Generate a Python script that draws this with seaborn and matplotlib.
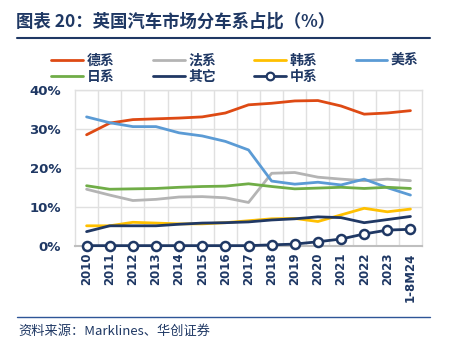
import matplotlib
matplotlib.use("Agg")
import matplotlib.pyplot as plt
import seaborn as sns
import pandas as pd
from matplotlib.lines import Line2D

years = ["2010", "2011", "2012", "2013", "2014", "2015", "2016", "2017",
         "2018", "2019", "2020", "2021", "2022", "2023", "1-8M24"]
de = [28.5, 31.5, 32.4, 32.6, 32.8, 33.1, 34.1, 36.2, 36.6, 37.2, 37.3, 35.9, 33.8, 34.1, 34.7]
fr = [14.5, 13.0, 11.6, 11.9, 12.5, 12.6, 12.3, 11.1, 18.6, 18.8, 17.6, 17.1, 16.7, 17.1, 16.7]
kr = [5.1, 5.1, 6.0, 5.8, 5.6, 5.6, 5.9, 6.4, 6.9, 7.0, 6.2, 7.9, 9.6, 8.7, 9.4]
us = [33.1, 31.6, 30.6, 30.6, 29.0, 28.2, 26.8, 24.6, 16.6, 15.8, 16.3, 15.6, 17.1, 14.9, 13.0]
jp = [15.4, 14.5, 14.6, 14.7, 15.0, 15.2, 15.3, 15.9, 15.2, 14.6, 14.8, 15.0, 14.7, 15.0, 14.7]
other = [3.6, 5.1, 5.1, 5.1, 5.5, 5.8, 5.9, 6.1, 6.6, 6.9, 7.4, 7.2, 5.9, 6.7, 7.5]
cn = [0.0, 0.0, 0.0, 0.0, 0.0, 0.0, 0.0, 0.0, 0.2, 0.4, 1.0, 1.7, 3.0, 4.0, 4.2]

series_names = ["德系", "法系", "韩系", "美系", "日系", "其它", "中系"]
series_vals = [de, fr, kr, us, jp, other, cn]
colors = ["#DE4A14", "#B4B4B4", "#FFC000", "#5B9BD5", "#70AD47", "#203864", "#203864"]
navy = "#1F3864"

rows = []
for name, vals in zip(series_names, series_vals):
    for i, (y, v) in enumerate(zip(years, vals)):
        rows.append({"idx": i, "year": y, "series": name, "value": v})
df = pd.DataFrame(rows)

sns.set_style("white")
plt.rcParams["font.family"] = ["Noto Sans CJK SC", "DejaVu Sans"]

fig = plt.figure(figsize=(4.53, 3.45), dpi=100)
ax = fig.add_axes([0.1656, 0.288, 0.766, 0.451])

palette = dict(zip(series_names, colors))
sns.lineplot(data=df[df.series != "中系"], x="idx", y="value", hue="series",
             hue_order=series_names[:-1], palette=palette, linewidth=2.0,
             ax=ax, legend=False, sort=False)
sns.lineplot(data=df[df.series == "中系"], x="idx", y="value", color=navy,
             linewidth=2.0, marker="o", markersize=6.5, markerfacecolor="white",
             markeredgecolor=navy, markeredgewidth=1.8, ax=ax, legend=False,
             clip_on=False, zorder=5)

ax.set_xlim(-0.5, 14.5)
ax.set_ylim(0, 40)
ax.set_xticks(range(len(years)))
ax.set_xticklabels(years, rotation=90, fontsize=8.5, fontweight="bold", color=navy,
                   family=["DejaVu Sans"])
ax.set_yticks([0, 10, 20, 30, 40])
ax.set_yticklabels(["0%", "10%", "20%", "30%", "40%"], fontsize=9.5,
                   fontweight="bold", color=navy, family=["DejaVu Sans"])
ax.set_xticks([i - 0.5 for i in range(1, len(years))], minor=True)
ax.tick_params(axis="x", which="both", length=0, pad=5)
ax.tick_params(axis="y", which="both", length=0, pad=10)
ax.grid(False)
ax.grid(axis="x", which="minor", color="#E0E0E0", linewidth=1)
ax.grid(axis="y", which="major", color="#E0E0E0", linewidth=1)
ax.set_xlabel("")
ax.set_ylabel("")
for side in ["top", "right", "left"]:
    ax.spines[side].set_color("#E0E0E0")
    ax.spines[side].set_linewidth(1)
ax.spines["bottom"].set_color("#BFBFBF")
ax.spines["bottom"].set_linewidth(1.5)

handles = {}
for name, c in zip(series_names, colors):
    if name == "中系":
        handles[name] = Line2D([], [], color=c, linewidth=2.0, marker="o", markersize=5.5,
                               markerfacecolor="white", markeredgecolor=c, markeredgewidth=1.6)
    else:
        handles[name] = Line2D([], [], color=c, linewidth=2.0)
# column-major order so rows read: 德 法 韩 美 / 日 其它 中
order = ["德系", "日系", "法系", "其它", "韩系", "中系", "美系"]
leg = fig.legend([handles[n] for n in order], order, loc="upper left",
                 bbox_to_anchor=(0.086, 0.88), ncol=4, frameon=False,
                 handlelength=2.3, columnspacing=2.75, handletextpad=0.25,
                 labelspacing=0.15,
                 prop={"family": ["Noto Sans CJK SC"], "weight": "bold", "size": 10})
for t in leg.get_texts():
    t.set_color(navy)

fig.text(0.035, 0.937, "图表 20：英国汽车市场分车系占比（%）", fontsize=12.5,
         fontweight="bold", color=navy, ha="left", va="center")
fig.add_artist(Line2D([0.037, 0.95], [0.891, 0.891], color=navy, linewidth=1.5,
                      transform=fig.transFigure))
fig.add_artist(Line2D([0.037, 0.95], [0.082, 0.082], color="#2E5597", linewidth=1.0,
                      transform=fig.transFigure))
fig.text(0.04, 0.04, "资料来源：Marklines、华创证券", fontsize=9.5, style="italic",
         color=navy, ha="left", va="center")

fig.savefig("out.png", dpi=100)
